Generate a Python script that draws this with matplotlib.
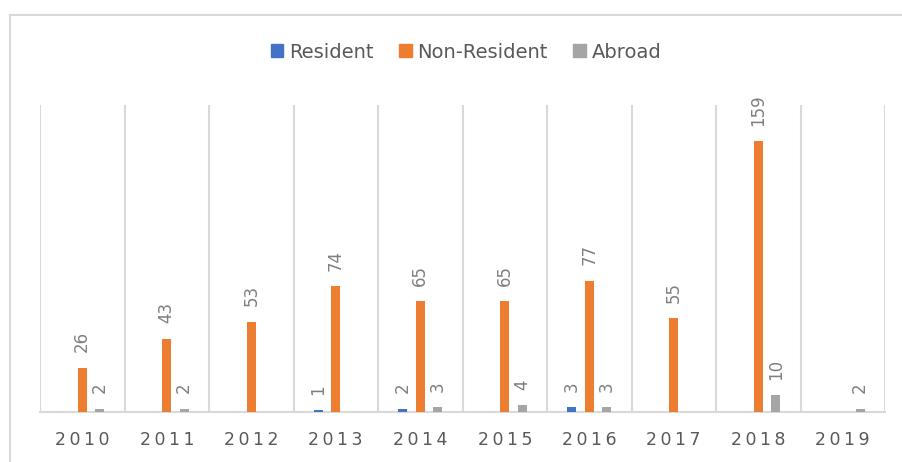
import numpy as np
import matplotlib.pyplot as plt
from matplotlib.lines import Line2D
from matplotlib.patches import Patch

years = ["2010", "2011", "2012", "2013", "2014", "2015", "2016", "2017", "2018", "2019"]
resident = [0, 0, 0, 1, 2, 0, 3, 0, 0, 0]
non_resident = [26, 43, 53, 74, 65, 65, 77, 55, 159, 0]
abroad = [2, 2, 0, 0, 3, 4, 3, 0, 10, 2]

series = [
    ("Resident", resident, "#4472C4", -0.207),
    ("Non-Resident", non_resident, "#ED7D31", 0.0),
    ("Abroad", abroad, "#A5A5A5", 0.207),
]
grid_c = "#D9D9D9"
text_c = "#595959"
label_c = "#7F7F7F"

fig = plt.figure(figsize=(9.03, 4.62), dpi=100)
ax = fig.add_axes([40 / 903, 50 / 462, 845 / 903, 307 / 462])

x = np.arange(len(years))
for name, vals, color, off in series:
    ax.bar(x + off, vals, width=0.107, color=color, zorder=3)
    for xi, v in zip(x, vals):
        if v > 0:
            ax.annotate(str(v), (xi + off, v), xytext=(0, 11), textcoords="offset points",
                        rotation=90, ha="center", va="bottom", fontsize=12, color=label_c)

ax.set_xlim(-0.5, len(years) - 0.5)
ax.set_ylim(0, 180)
for b in np.arange(-0.5, len(years), 1.0):
    ax.axvline(b, color=grid_c, lw=1.5, zorder=1)

for s in ["top", "right", "left"]:
    ax.spines[s].set_visible(False)
ax.spines["bottom"].set_color(grid_c)
ax.spines["bottom"].set_linewidth(1.5)
ax.set_yticks([])
ax.set_xticks(x)
ax.set_xticklabels(["\u2009".join(y) for y in years], fontsize=12.5, color=text_c)
ax.tick_params(axis="x", length=0, pad=14)

handles = [Patch(color=c, label=n) for n, _, c, _ in series]
fig.legend(handles=handles, loc="center", bbox_to_anchor=(466 / 903, 1 - 52 / 462),
           ncol=3, frameon=False, fontsize=14, handlelength=0.65, handleheight=0.65,
           handletextpad=0.3, columnspacing=1.3, labelcolor=text_c)

# chart area border (partly cropped in the reference)
fig.add_artist(Line2D([10 / 903, 10 / 903], [0, 1 - 15 / 462], color=grid_c, lw=1.5))
fig.add_artist(Line2D([10 / 903, 1], [1 - 15 / 462, 1 - 15 / 462], color=grid_c, lw=1.5))

fig.savefig("out.png", dpi=100)
